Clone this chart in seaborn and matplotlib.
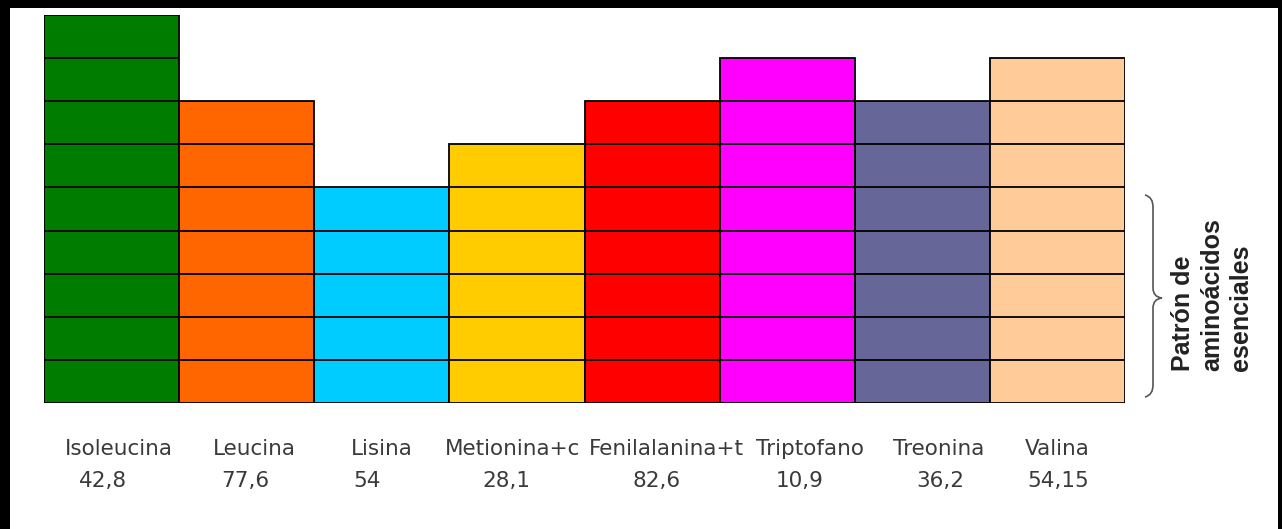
import matplotlib
matplotlib.use("Agg")
import matplotlib.pyplot as plt
import seaborn as sns
import pandas as pd
from matplotlib.patches import Rectangle, PathPatch
from matplotlib.path import Path

# ---- data ----
categories = ["Isoleucina", "Leucina", "Lisina", "Metionina+c", "Fenilalanina+t",
              "Triptofano", "Treonina", "Valina"]
value_labels = ["42,8", "77,6", "54", "28,1", "82,6", "10,9", "36,2", "54,15"]
unit_heights = [9, 7, 5, 6, 7, 8, 7, 8]
colors = ["#007C00", "#FF6600", "#00CCFF", "#FFCC00", "#FF0000", "#FF00FF",
          "#666699", "#FFCC99"]
side_label = "Patrón de\naminoácidos\nesenciales"

# label placement tweaks (pixels, relative to bar centre)
name_dx_px = [7, 8, 0, -4, 14, 23, 16, 0]
num_dx_px = [-9, -1, -15, -11, 4, 12, 18, 1]

sns.set_theme(style="white")
plt.rcParams['font.family'] = ['DejaVu Sans']

W, H = 1282, 529
fig = plt.figure(figsize=(W / 100, H / 100), dpi=100)
fig.patch.set_facecolor("white")

def fx(px):
    return px / W

def fy(py):
    return 1 - py / H

left, right, top, bottom = 44, 1125, 15, 403
ax = fig.add_axes([fx(left), fy(bottom), fx(right) - fx(left), fy(top) - fy(bottom)])

df = pd.DataFrame({"cat": categories, "h": unit_heights})
sns.barplot(data=df, x="cat", y="h", hue="cat", palette=colors, legend=False,
            width=1.0, edgecolor="black", linewidth=1.3, saturation=1, ax=ax)

# unit segment lines in each bar
for p in ax.patches:
    x0, w, h = p.get_x(), p.get_width(), p.get_height()
    for k in range(1, int(round(h))):
        ax.plot([x0, x0 + w], [k, k], color="black", lw=1.3, solid_capstyle="butt")

ax.set_xlim(-0.5, len(categories) - 0.5)
ax.set_ylim(0, max(unit_heights))
ax.axis("off")

px_per_unit = (right - left) / len(categories)

# labels under bars
trans = ax.get_xaxis_transform()
for i, (c, v) in enumerate(zip(categories, value_labels)):
    ax.text(i + name_dx_px[i] / px_per_unit, -0.118, c, transform=trans,
            ha="center", va="center", fontsize=15.5, color="#3a3a3a", clip_on=False)
    ax.text(i + num_dx_px[i] / px_per_unit, -0.200, v, transform=trans,
            ha="center", va="center", fontsize=15.5, color="#3a3a3a", clip_on=False)

# curly brace
bx0, bx1, bxt = 1145, 1153, 1162
by0, bym, by1 = 195, 298, 397
pts = [(bx0, by0), (bx1, by0 + 2), (bx1, by0 + 12),
       (bx1, bym - 10),
       (bx1, bym - 1), (bxt, bym),
       (bx1, bym + 1), (bx1, bym + 10),
       (bx1, by1 - 12),
       (bx1, by1 - 2), (bx0, by1)]
codes = [Path.MOVETO, Path.CURVE3, Path.CURVE3,
         Path.LINETO,
         Path.CURVE3, Path.CURVE3,
         Path.CURVE3, Path.CURVE3,
         Path.LINETO,
         Path.CURVE3, Path.CURVE3]
path = Path([(fx(x), fy(y)) for x, y in pts], codes)
fig.patches.append(PathPatch(path, transform=fig.transFigure, fill=False,
                             edgecolor="#555555", lw=1.2))

fig.text(fx(1212), fy(371), side_label, rotation=90, ha="center", va="bottom",
         multialignment="left", fontsize=18, fontweight="bold",
         family=["Liberation Sans", "DejaVu Sans"], color="#222222",
         linespacing=1.27)

# black border (top, left, right)
for (x, y, w, h) in [(0, 0, W, 8), (0, 0, 10, H), (1278, 0, 4, H)]:
    fig.patches.append(Rectangle((fx(x), fy(y + h)), w / W, h / H,
                                 transform=fig.transFigure, facecolor="black",
                                 edgecolor="none", zorder=10))

fig.savefig("out.png", dpi=100, facecolor="white")
